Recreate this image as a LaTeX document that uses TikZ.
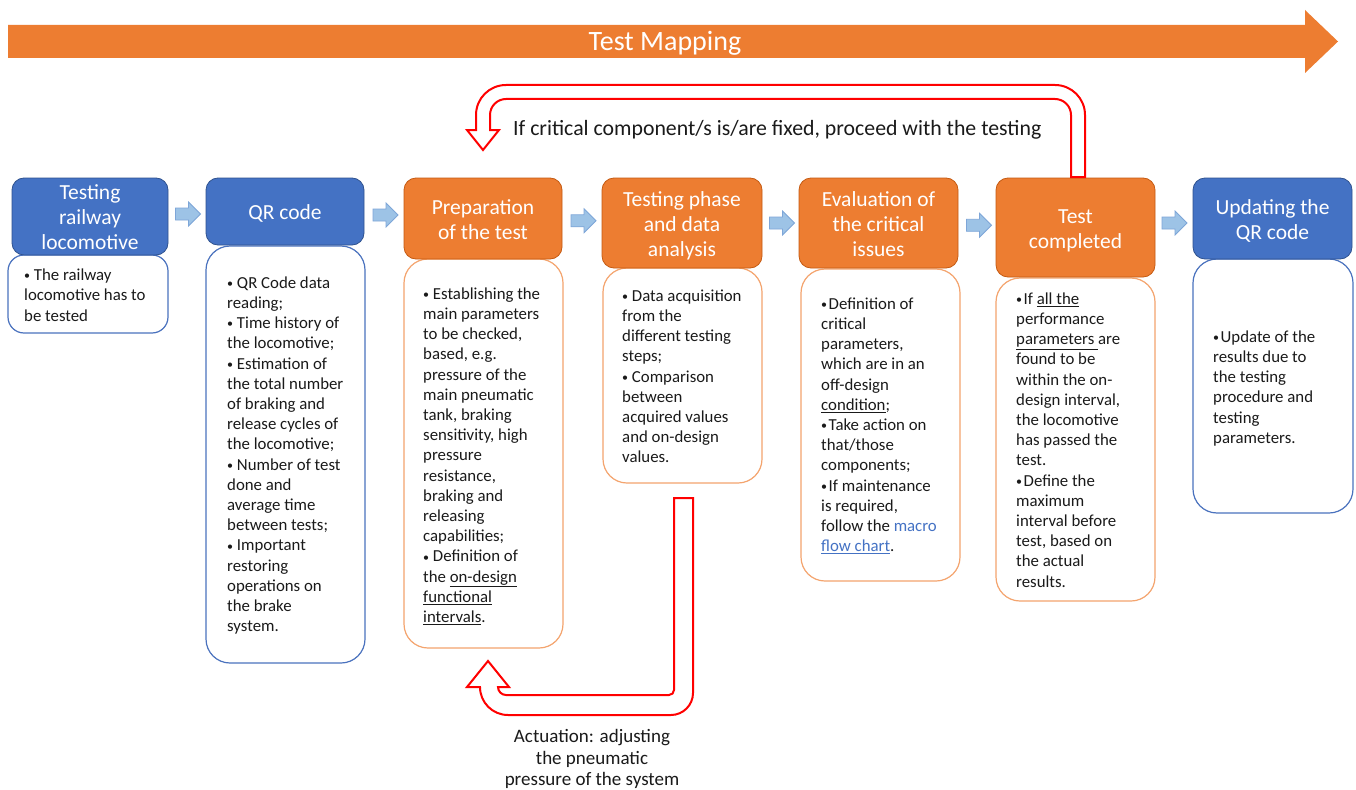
\documentclass[tikz,border=0pt]{standalone}
\usepackage{fontspec}
\setmainfont{Carlito}
\usetikzlibrary{calc}
\definecolor{hblue}{HTML}{4472C4}
\definecolor{hbluedark}{HTML}{2F528F}
\definecolor{horange}{HTML}{ED7D31}
\definecolor{horangedark}{HTML}{C55A11}
\definecolor{boxorange}{HTML}{F4A46E}
\definecolor{boxblue}{HTML}{4A72BE}
\definecolor{arrfill}{HTML}{9DC3E6}
\definecolor{arrdraw}{HTML}{7EA6D8}
\definecolor{linkblue}{HTML}{4472C4}
\definecolor{txt}{HTML}{1A1A1A}
\definecolor{redarr}{HTML}{FF0000}
\newcommand{\smallbul}{{\fontsize{12}{12}\selectfont\raisebox{0.8pt}{\textbullet}}}
\newcommand{\bul}{\smallbul\ }
\newcommand{\bulx}{\smallbul\kern1.5pt}
\newcommand{\hstart}{\rule{0pt}{20.5pt}}
\newcommand{\hend}{\rule[-4.5pt]{0pt}{4.5pt}}
\begin{document}
\begin{tikzpicture}[x=1pt,y=-1pt,
 head/.style={rounded corners=12, text=white, align=center, font=\fontsize{21.5}{25}\selectfont, inner sep=0, line width=0.8},
 bluehead/.style={head, fill=hblue, draw=hbluedark},
 orangehead/.style={head, fill=horange, draw=horangedark},
 tbox/.style={rounded corners=24, fill=white, line width=1.2, inner sep=0},
 bluebox/.style={tbox, draw=boxblue},
 orangebox/.style={tbox, draw=boxorange},
 btext/.style={anchor=north west, align=left, inner sep=0, text=txt, font=\fontsize{16.8}{20.2}\selectfont},
 redarrow/.style={draw=redarr, fill=white, line width=2, line join=miter},
 bluearr/.style={fill=arrfill, draw=arrdraw, line width=0.8},
 pics/blockarr/.style={code={\draw[bluearr] (-12.5,-6) -- (0.5,-6) -- (0.5,-12) -- (12.5,0) -- (0.5,12) -- (0.5,6) -- (-12.5,6) -- cycle;}}
]
\useasboundingbox (0,0) rectangle (1356,789);
\fill[white] (0,0) rectangle (1356,789);

% top mapping arrow
\fill[horange] (8,25) -- (1305,25) -- (1305,10) -- (1338,41.5) -- (1305,73) -- (1305,58) -- (8,58) -- cycle;
\node[text=white, font=\fontsize{28}{32}\selectfont, inner sep=0] (mapping) at (665,43) {Test Mapping};

% text boxes
\node[bluebox, rounded corners=16, minimum width=160, minimum height=78] (b1) at (88,294) {};
\node[bluebox, minimum width=159, minimum height=417] (b2) at (285.5,454.5) {};
\node[orangebox, minimum width=159, minimum height=389] (b3) at (483.5,453.5) {};
\node[orangebox, minimum width=159, minimum height=215] (b4) at (682.5,375.5) {};
\node[orangebox, minimum width=159, minimum height=312] (b5) at (880.5,425) {};
\node[orangebox, minimum width=159, minimum height=323] (b6) at (1075.5,439.5) {};
\node[bluebox, minimum width=160, minimum height=254] (b7) at (1273,386) {};

% headers
\node[bluehead, minimum width=156, minimum height=77] (h1) at (90,216.5) {\hstart Testing\\railway\\locomotive\hend};
\node[bluehead, minimum width=158, minimum height=67] (h2) at (285,211.5) {\hstart QR code\hend};
\node[orangehead, minimum width=158, minimum height=81] (h3) at (483,218.5) {\hstart Preparation\\of the test\hend};
\node[orangehead, minimum width=160, minimum height=90] (h4) at (682,223) {\hstart Testing phase\\and data\\analysis\hend};
\node[orangehead, minimum width=159, minimum height=90] (h5) at (878.5,223) {\hstart Evaluation of\\the critical\\issues\hend};
\node[orangehead, minimum width=159, minimum height=99] (h6) at (1075.5,227.5) {\hstart Test\\completed\hend};
\node[bluehead, minimum width=159, minimum height=81] (h7) at (1272.5,218.5) {\hstart Updating the\\QR code\hend};

% small arrows between headers
\coordinate (ay) at (0,212);
\pic at ($($(h1.east)!0.5!(h2.west)$)+(1,0)$ |- ay) {blockarr};
\pic at ($($(h2.east)!0.5!(h3.west)$)+(1.5,0)$ |- ay) {blockarr};
\pic at ($($(h3.east)!0.5!(h4.west)$)+(1.5,0)$ |- ay) {blockarr};
\pic at ($($(h4.east)!0.5!(h5.west)$)+(1.5,0)$ |- ay) {blockarr};
\pic at ($($(h5.east)!0.5!(h6.west)$)+(2,0)$ |- ay) {blockarr};
\pic at ($($(h6.east)!0.5!(h7.west)$)+(0.5,0)$ |- ay) {blockarr};

% box texts
\node[btext, font=\fontsize{16.8}{20.5}\selectfont] (t1) at (24,265.5) {\strut\bul The railway\\locomotive has to\\be tested};
\node[btext] (t2) at (227,274) {\strut\bul QR Code data\\reading;\\\bul Time history of\\the locomotive;\\\bul Estimation of\\the total number\\of braking and\\release cycles of\\the locomotive;\\\bul Number of test\\done and\\average time\\between tests;\\\bul Important\\restoring\\operations on\\the brake\\system.};
\node[btext] (t3) at (423,285) {\strut\bul Establishing the\\main parameters\\to be checked,\\based, e.g.\\pressure of the\\main pneumatic\\tank, braking\\sensitivity, high\\pressure\\resistance,\\braking and\\releasing\\capabilities;\\\bul Definition of\\the \underline{on-design}\\\underline{functional}\\\underline{intervals}.};
\node[btext] (t4) at (622,287) {\strut\bul Data acquisition\\from the\\different testing\\steps;\\\bul Comparison\\between\\acquired values\\and on-design\\values.};
\node[btext] (t5) at (821,295) {\strut\bulx Definition of\\critical\\parameters,\\which are in an\\off-design\\\underline{condition};\\\bulx Take action on\\that/those\\components;\\\bulx If maintenance\\is required,\\follow the \textcolor{linkblue}{macro}\\\textcolor{linkblue}{\underline{flow chart}}.};
\node[btext] (t6) at (1016,290) {\strut\bulx If \underline{all the}\\performance\\\underline{parameters\ }are\\found to be\\within the on-\\design interval,\\the locomotive\\has passed the\\test.\\\bulx Define the\\maximum\\interval before\\test, based on\\the actual\\results.};
\node[btext] (t7) at (1213,328) {\strut\bulx Update of the\\results due to\\the testing\\procedure and\\testing\\parameters.};

% top red feedback arrow (from Test completed back to Preparation)
\draw[redarrow] (1085,177) -- (1085,115) .. controls (1085,98.4) and (1071.6,85) .. (1055,85) -- (506,85) .. controls (489.4,85) and (476,98.4) .. (476,115) -- (476,130) -- (467,130) -- (483,150) -- (499,130) -- (490,130) -- (490,115) .. controls (490,106.2) and (497.2,99) .. (506,99) -- (1055,99) .. controls (1063.8,99) and (1071,106.2) .. (1071,115) -- (1071,177) -- cycle;
\node[anchor=west, inner sep=0, text=txt, font=\fontsize{21.8}{25}\selectfont] (fixlabel) at (513,130) {If critical component/s is/are fixed, proceed with the testing};

% bottom red actuation arrow
\draw[redarrow] (674,498) -- (693,498) -- (693,693) .. controls (693,705.1) and (683.1,715) .. (671,715) -- (508,715) .. controls (492.5,715) and (480,702.5) .. (480,687) -- (467,687) -- (488,661) -- (509,687) -- (498,687) .. controls (498,691.4) and (501.6,695) .. (506,695) -- (669,695) .. controls (671.8,695) and (674,692.8) .. (674,690) -- cycle;
\node[anchor=north, align=center, inner sep=0, text=txt, font=\fontsize{19}{21.5}\selectfont] (actlabel) at (592,727.4) {\strut Actuation: adjusting\\the pneumatic\\pressure of the system};
\end{tikzpicture}
\end{document}
